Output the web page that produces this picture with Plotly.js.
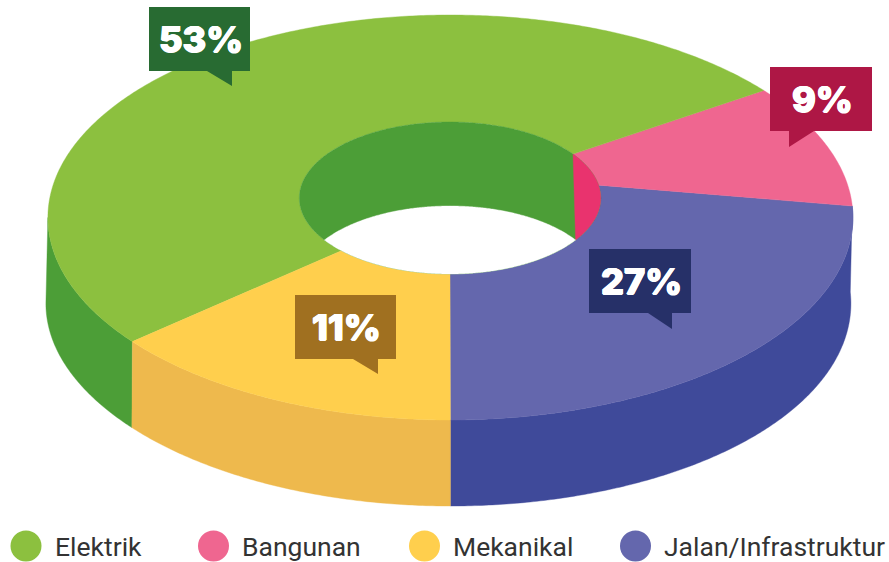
<!DOCTYPE html>
<html>
<head>
<meta charset="utf-8">
<script src="https://cdn.plot.ly/plotly-3.0.1.min.js"></script>
<style>html,body{margin:0;padding:0;background:#fff}#chart{width:889px;height:562px}</style>
</head>
<body>
<div id="chart"></div>
<script>
// DATA (clockwise on screen, starting at the bottom of the ring)
const categories = ['Jalan/Infrastruktur', 'Bangunan', 'Elektrik', 'Mekanikal'];
const labelPercents = [27, 9, 53, 11];
// Slice widths as actually drawn in the picture (they differ slightly from the printed labels)
const outerRimShares = [25.9, 9.9, 49.7, 14.5];
const innerRimShares = [27.7, 7.1, 52.4, 12.8];
const legendOrder = ['Elektrik', 'Bangunan', 'Mekanikal', 'Jalan/Infrastruktur'];

// STYLE
const topColors = ['#6467AD', '#EF6690', '#8CC03F', '#FFCF4D'];
const wallColors = ['#3F4A9A', '#E9336E', '#4C9E37', '#EEB94D'];
const calloutColors = ['#263068', '#AE1745', '#286B32', '#A07020'];

// GEOMETRY
const outer = {cx: 450.4, cy: 217.5, rx: 402.5, ry: 202.5};
const hole = {cx: 450, cy: 198, rx: 150.7, ry: 76};
const depth = 86, holeDepth = 84, flare = 2;
const calloutBoxes = [
  {x0: 589, x1: 691, y0: 249, y1: 313, n0: 648, n1: 672, tip: 329, tipX: 672},
  {x0: 770, x1: 872, y0: 67, y1: 131, n0: 789, n1: 814, tip: 147, tipX: 789},
  {x0: 149, x1: 250, y0: 7, y1: 71, n0: 207, n1: 232, tip: 86, tipX: 232},
  {x0: 295, x1: 396, y0: 295, y1: 359, n0: 353, n1: 378, tip: 374, tipX: 378}
];
const legendX = [26, 213.5, 424.5, 635.5];
const legendY = 546;

const rad = d => d * Math.PI / 180;
const pt = (e, th) => [e.cx + e.rx * Math.sin(rad(th)), e.cy + e.ry * Math.cos(rad(th))];
const lowerPt = th => {
  const p = pt(outer, th);
  return [p[0] - flare * Math.pow(Math.abs(Math.sin(rad(th))), 6), p[1] + depth];
};
function arc(fn, a, b) {
  const n = Math.max(2, Math.ceil(Math.abs(b - a) * 2)), out = [];
  for (let i = 0; i <= n; i++) out.push(fn(a + (b - a) * i / n));
  return out;
}
function cumulative(shares) {
  const edges = [0];
  shares.forEach(s => edges.push(edges[edges.length - 1] + s * 3.6));
  return edges;
}
function poly(points, color) {
  const pts = points.concat([points[0]]);
  return {
    type: 'scatter', mode: 'lines', x: pts.map(p => p[0]), y: pts.map(p => p[1]),
    fill: 'toself', fillcolor: color, line: {color: color, width: 0.4, simplify: false},
    hoverinfo: 'skip', showlegend: false
  };
}

const oE = cumulative(outerRimShares), iE = cumulative(innerRimShares);
const traces = [];

// outer walls: only the part of each slice on the near side of the ring can be seen
categories.forEach((c, i) => {
  let a = oE[i], b = oE[i + 1];
  if (a >= 90 && b <= 270) return;
  if (a >= 90 && a < 270) a = 270;
  traces.push(poly(arc(t => pt(outer, t), a, b).concat(arc(lowerPt, b, a)), wallColors[i]));
});
// top faces
categories.forEach((c, i) => {
  traces.push(poly(
    arc(t => pt(outer, t), oE[i], oE[i + 1]).concat(arc(t => pt(hole, t), iE[i + 1], iE[i])),
    topColors[i]));
});
// inner wall of the hole
const shifted = {cx: hole.cx, cy: hole.cy + holeDepth, rx: hole.rx, ry: hole.ry};
const cornerTh = Math.acos((holeDepth / 2) / hole.ry) * 180 / Math.PI;
const bangunan = categories.indexOf('Bangunan');
const elektrik = categories.indexOf('Elektrik');
traces.push(poly(arc(t => pt(hole, t), 0, 360), wallColors[elektrik]));
traces.push(poly(arc(t => pt(hole, t), cornerTh, iE[bangunan + 1]), wallColors[bangunan]));
// see-through lens
traces.push(poly(
  arc(t => pt(hole, t), cornerTh, -cornerTh).concat(arc(t => pt(shifted, t), 180 + cornerTh, 180 - cornerTh)),
  '#FFFFFF'));
// legend dots
traces.push({
  type: 'scatter', mode: 'markers', x: legendX, y: legendX.map(() => legendY),
  marker: {size: 31, color: legendOrder.map(n => topColors[categories.indexOf(n)]), line: {width: 0}},
  hoverinfo: 'skip', showlegend: false
});

const shapes = calloutBoxes.map((b, i) => ({
  type: 'path', layer: 'above', xref: 'x', yref: 'y', fillcolor: calloutColors[i], line: {width: 0},
  path: `M${b.x0} ${b.y0}L${b.x1} ${b.y0}L${b.x1} ${b.y1}L${b.n1} ${b.y1}L${b.tipX} ${b.tip}L${b.n0} ${b.y1}L${b.x0} ${b.y1}Z`
}));

const boldEdge = '0.7px 0 0 #fff, -0.7px 0 0 #fff, 0 0.5px 0 #fff, 0 -0.5px 0 #fff';
const annotations = calloutBoxes.map((b, i) => ({
  x: (b.x0 + b.x1) / 2, y: (b.y0 + b.y1) / 2, xref: 'x', yref: 'y', showarrow: false,
  text: labelPercents[i] + '%', xanchor: 'center', yanchor: 'middle', xshift: 1,
  font: {family: 'Inter, sans-serif', size: 36, weight: 800, color: '#FFFFFF', shadow: boldEdge}
})).concat(legendOrder.map((n, i) => ({
  x: legendX[i] + 29.5, y: legendY, xref: 'x', yref: 'y', showarrow: false,
  text: n, xanchor: 'left', yanchor: 'middle', xshift: -3,
  font: {family: 'Roboto, sans-serif', size: 26.5, color: '#333333'}
})));

Plotly.newPlot('chart', traces, {
  width: 889, height: 562,
  margin: {l: 0, r: 0, t: 0, b: 0, pad: 0},
  paper_bgcolor: '#FFFFFF', plot_bgcolor: '#FFFFFF',
  xaxis: {range: [0, 889], visible: false, fixedrange: true},
  yaxis: {range: [562, 0], visible: false, fixedrange: true},
  showlegend: false, hovermode: false,
  shapes: shapes, annotations: annotations
}, {displayModeBar: false, staticPlot: true});
</script>
</body>
</html>
